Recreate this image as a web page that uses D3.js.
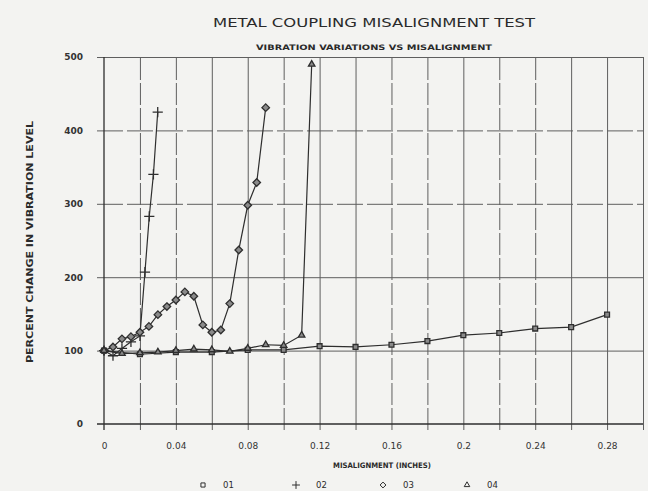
<!DOCTYPE html>
<html>
<head>
<meta charset="utf-8">
<script src="https://cdn.jsdelivr.net/npm/d3@7"></script>
<style>
  body { margin: 0; background: #f3f3f1; }
  svg { display: block; font-family: "DejaVu Sans", sans-serif; }
</style>
</head>
<body>
<svg id="chart" width="648" height="491"></svg>
<script>
// Data (percent change vs misalignment in inches)
const s01x = [0, 0.02, 0.04, 0.06, 0.08, 0.10, 0.12, 0.14, 0.16, 0.18, 0.20, 0.22, 0.24, 0.26, 0.28];
const s01y = [100, 95, 98, 98, 101, 101, 106, 105, 108, 113, 121, 124, 130, 132, 149];

const s02x = [0, 0.005, 0.01, 0.015, 0.02, 0.0228, 0.0252, 0.0275, 0.0299];
const s02y = [100, 93, 103, 112, 120, 207, 283, 340, 425];

const s03x = [0, 0.005, 0.01, 0.015, 0.02, 0.025, 0.03, 0.035, 0.04, 0.045, 0.05, 0.055, 0.06, 0.065, 0.07, 0.075, 0.08, 0.085, 0.09];
const s03y = [100, 105, 116, 119, 125, 133, 149, 160, 169, 180, 174, 135, 125, 128, 164, 237, 298, 329, 431];

const s04x = [0, 0.01, 0.02, 0.03, 0.04, 0.05, 0.06, 0.07, 0.08, 0.09, 0.10, 0.11, 0.1156];
const s04y = [100, 96, 97, 98, 100, 102, 101, 99, 103, 108, 107, 121, 490];

const seriesNames = ["01", "02", "03", "04"];
const xTickLabels = [0, 0.04, 0.08, 0.12, 0.16, 0.2, 0.24, 0.28];
const xGridTicks = [0.02, 0.04, 0.06, 0.08, 0.10, 0.12, 0.14, 0.16, 0.18, 0.20, 0.22, 0.24, 0.26, 0.28, 0.30];
const yTicks = [0, 100, 200, 300, 400, 500];

// Layout
const DIMENSIONS = {
  width: 648,
  height: 491,
  margin: {top: 57, right: 5, bottom: 67, left: 104}
};
const W = DIMENSIONS.width - DIMENSIONS.margin.left - DIMENSIONS.margin.right;
const H = DIMENSIONS.height - DIMENSIONS.margin.top - DIMENSIONS.margin.bottom;
const INK = "#2e2e2e";
const GRID = "#5e5e5e";
// grid lines that print as broken dashes on the scan
const dashedX = [0.02, 0.04, 0.10, 0.16, 0.18, 0.22, 0.24];
const dashedY = [300, 400];

const svg = d3.select("#chart");
const g = svg.append("g")
  .attr("transform", `translate(${DIMENSIONS.margin.left},${DIMENSIONS.margin.top})`);

const x = d3.scaleLinear().domain([0, 0.30]).range([0, W]);
const y = d3.scaleLinear().domain([0, 500]).range([H, 0]);

const isDashed = (list, v) => list.some(d => Math.abs(d - v) < 1e-6);

// vertical grid, extends a little below the zero line
g.append("g")
  .attr("transform", `translate(0,${H})`)
  .call(d3.axisBottom(x).tickValues(xGridTicks).tickSize(-H).tickSizeOuter(0).tickFormat(""))
  .call(a => a.select(".domain").remove())
  .call(a => a.selectAll(".tick line")
    .attr("y1", 6)
    .attr("stroke", GRID)
    .attr("stroke-width", 1)
    .attr("stroke-dasharray", d => isDashed(dashedX, d) ? "22,3" : null));

// horizontal grid, extends a little left of the axis
g.append("g")
  .call(d3.axisLeft(y).tickValues(yTicks.slice(1)).tickSize(-W).tickSizeOuter(0).tickFormat(""))
  .call(a => a.select(".domain").remove())
  .call(a => a.selectAll(".tick line")
    .attr("x1", -7)
    .attr("stroke", GRID)
    .attr("stroke-width", 1)
    .attr("stroke-dasharray", d => isDashed(dashedY, d) ? "26,4" : null));

// left axis line and zero line
g.append("line").attr("x1", 0).attr("x2", 0).attr("y1", 0).attr("y2", H + 6)
  .attr("stroke", INK).attr("stroke-width", 1.3);
g.append("line").attr("x1", -7).attr("x2", W).attr("y1", H).attr("y2", H)
  .attr("stroke", INK).attr("stroke-width", 1.6);

// tick labels
g.append("g")
  .attr("transform", `translate(0,${H})`)
  .call(d3.axisBottom(x).tickValues(xTickLabels).tickSize(0).tickPadding(19)
    .tickFormat(d => String(+d.toFixed(2))))
  .call(a => a.select(".domain").remove())
  .call(a => a.selectAll("text").attr("font-size", 9).attr("fill", "#333").attr("font-family", "DejaVu Sans"));

g.append("g")
  .call(d3.axisLeft(y).tickValues(yTicks).tickSize(0).tickPadding(21))
  .call(a => a.select(".domain").remove())
  .call(a => a.selectAll("text").attr("font-size", 9).attr("fill", "#333").attr("font-weight", "bold").attr("font-family", "DejaVu Sans"));

// series
const seriesData = [
  {name: seriesNames[0], xs: s01x, ys: s01y, symbol: d3.symbolSquare2 || d3.symbolSquare, size: 30},
  {name: seriesNames[1], xs: s02x, ys: s02y, symbol: d3.symbolPlus || d3.symbolCross, size: 36},
  {name: seriesNames[2], xs: s03x, ys: s03y, symbol: d3.symbolDiamond2 || d3.symbolDiamond, size: 36},
  {name: seriesNames[3], xs: s04x, ys: s04y, symbol: d3.symbolTriangle2 || d3.symbolTriangle, size: 30}
].map(s => ({...s, points: s.xs.map((v, i) => ({x: v, y: s.ys[i]}))}));

const line = d3.line().x(d => x(d.x)).y(d => y(d.y));

g.selectAll(".series-line")
  .data(seriesData)
  .join("path")
  .attr("class", "series-line")
  .attr("d", d => line(d.points))
  .attr("fill", "none")
  .attr("stroke", INK)
  .attr("stroke-width", 1.2);

seriesData.forEach(s => {
  g.selectAll(`.mk-${s.name}`)
    .data(s.points)
    .join("path")
    .attr("class", `mk-${s.name}`)
    .attr("transform", d => `translate(${x(d.x)},${y(d.y)})`)
    .attr("d", d3.symbol(s.symbol, s.size))
    .attr("fill", "#8a8a8a")
    .attr("stroke", INK)
    .attr("stroke-width", 1.3);
});

// titles
svg.append("text")
  .attr("x", 374).attr("y", 27)
  .attr("text-anchor", "middle")
  .attr("font-size", 13)
  .attr("fill", "#2a2a2a")
  .attr("textLength", 322).attr("lengthAdjust", "spacingAndGlyphs")
  .text("METAL COUPLING MISALIGNMENT TEST");

svg.append("text")
  .attr("x", 374).attr("y", 50)
  .attr("text-anchor", "middle")
  .attr("font-size", 7.5)
  .attr("font-weight", "bold")
  .attr("fill", "#2a2a2a")
  .attr("textLength", 236).attr("lengthAdjust", "spacingAndGlyphs")
  .text("VIBRATION VARIATIONS VS MISALIGNMENT");

// axis titles
svg.append("text")
  .attr("transform", "translate(33,242) rotate(-90)")
  .attr("text-anchor", "middle")
  .attr("font-size", 8)
  .attr("font-weight", "bold")
  .attr("fill", "#2a2a2a")
  .attr("textLength", 242).attr("lengthAdjust", "spacingAndGlyphs")
  .text("PERCENT CHANGE IN VIBRATION LEVEL");

svg.append("text")
  .attr("x", 382).attr("y", 468)
  .attr("text-anchor", "middle")
  .attr("font-size", 7.5)
  .attr("font-weight", "bold")
  .attr("fill", "#2a2a2a")
  .attr("textLength", 98).attr("lengthAdjust", "spacingAndGlyphs")
  .text("MISALIGNMENT (INCHES)");

// legend
const legendX = [203, 296, 383, 467];
const legend = svg.append("g");
seriesData.forEach((s, i) => {
  legend.append("path")
    .attr("transform", `translate(${legendX[i]},${485})`)
    .attr("d", d3.symbol(s.symbol, 22))
    .attr("fill", "none")
    .attr("stroke", INK)
    .attr("stroke-width", 1);
  legend.append("text")
    .attr("x", legendX[i] + 20).attr("y", 488)
    .attr("font-size", 8.5)
    .attr("fill", "#2a2a2a")
    .text(s.name);
});
</script>
</body>
</html>
